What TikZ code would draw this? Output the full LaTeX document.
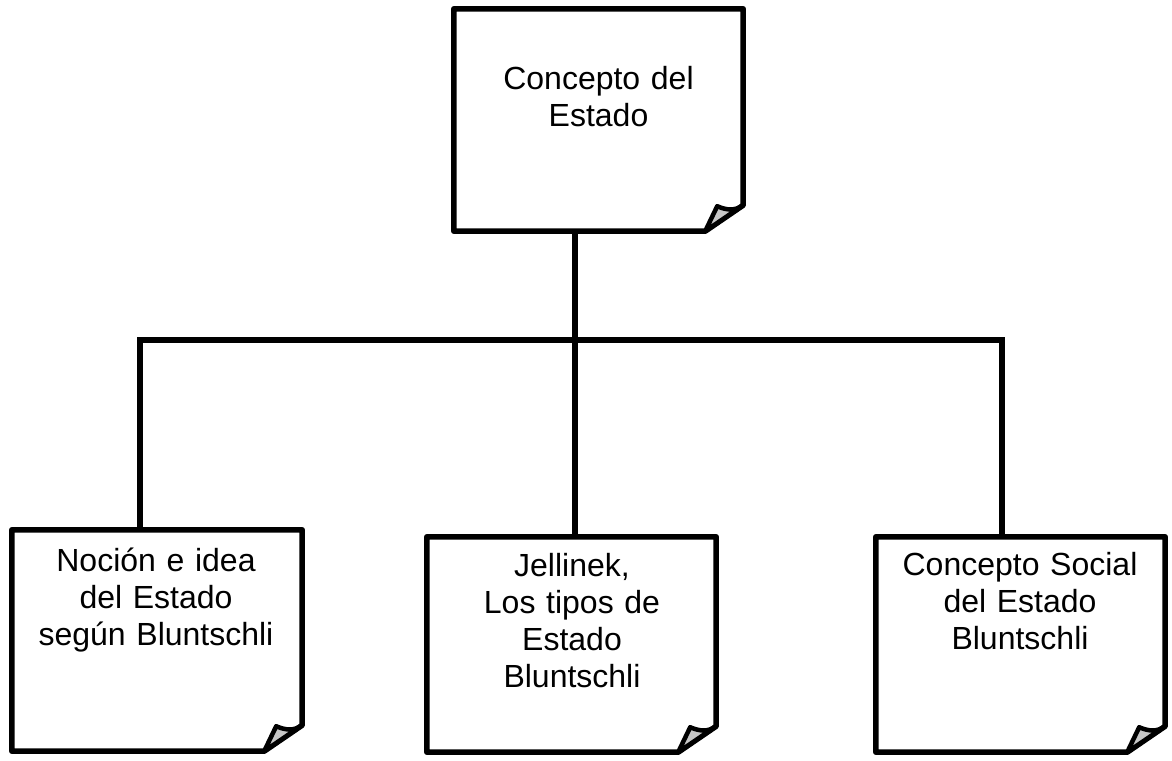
\documentclass[tikz,border=0pt]{standalone}
\usepackage{fontspec}
\setmainfont{Liberation Sans}
\begin{document}
\begin{tikzpicture}[x=1pt, y=-1pt,
  sheet/.style={minimum width=289pt, inner sep=0pt},
  caption/.style={anchor=base, text width=280pt, align=center, inner sep=0pt,
    font=\fontsize{32}{37}\selectfont},
  link/.style={line width=6pt},
  edge/.style={line width=5.5pt, line join=round},
  curl/.style={line width=4.5pt, line join=round, fill=black!22}]
  \useasboundingbox (0,0) rectangle (1172,760);

  \node[sheet, minimum height=222pt] (estado) at (598.5,120) {};
  \node[sheet, minimum width=290pt, minimum height=221pt] (nocion) at (157,640.5) {};
  \node[sheet, minimum height=215pt] (jellinek) at (571.5,644.5) {};
  \node[sheet, minimum height=215pt] (social) at (1020.5,644.5) {};

  % texts
  \node[caption] (estado-t) at (598.5,89) {Concepto del\\Estado};
  \node[caption] (nocion-t) at (156,571) {Noción e idea\\del Estado\\según Bluntschli};
  \node[caption] (jellinek-t) at (572,576) {Jellinek,\\Los tipos de\\Estado\\Bluntschli};
  \node[caption] (social-t) at (1020,575) {Concepto Social\\del Estado\\Bluntschli};

  % connectors
  \coordinate (busL) at (140,340);
  \coordinate (bus) at (575,340);
  \coordinate (busR) at (1002,340);
  \draw[link] (busL |- nocion.north) -- (busL) -- (busR) -- (busR |- social.north);
  \draw[link] (bus |- estado.south) -- (bus |- jellinek.north);

  % paper sheets with curled corner
  \foreach \n in {estado,nocion,jellinek,social} {
    \draw[edge] (\n.north west) -- (\n.north east) -- ([yshift=26pt]\n.south east)
      -- ([xshift=-38pt]\n.south east) -- (\n.south west) -- cycle;
    \filldraw[curl] ([yshift=26pt]\n.south east)
      .. controls ([xshift=-8pt,yshift=20pt]\n.south east) and ([xshift=-17pt,yshift=21pt]\n.south east)
      .. ([xshift=-26pt,yshift=25pt]\n.south east) -- ([xshift=-38pt]\n.south east) -- cycle;
  }
\end{tikzpicture}
\end{document}
